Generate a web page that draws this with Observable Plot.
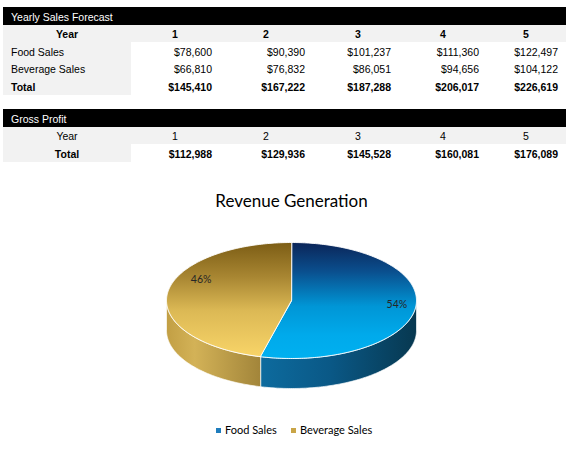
<!DOCTYPE html>
<html><head><meta charset="utf-8">
<script src="https://cdn.jsdelivr.net/npm/d3@7"></script>
<script src="https://cdn.jsdelivr.net/npm/@observablehq/plot@0.6"></script>
<style>
html,body{margin:0;padding:0;background:#fff;}
#root{position:relative;width:577px;height:458px;overflow:hidden;font-family:"Liberation Sans",Arial,sans-serif;font-size:10.5px;color:#000;}
.abs{position:absolute;white-space:nowrap;}
#chart{position:absolute;left:0;top:215px;}
</style></head><body><div id="root"><div id="chart"></div></div>
<script>
// ---------- data ----------
const tableTitle1 = "Yearly Sales Forecast";
const tableTitle2 = "Gross Profit";
const years = [1, 2, 3, 4, 5];
const rowLabels = ["Food Sales", "Beverage Sales"];
const foodSales = [78600, 90390, 101237, 111360, 122497];
const beverageSales = [66810, 76832, 86051, 94656, 104122];
const totalSales = [145410, 167222, 187288, 206017, 226619];
const grossProfit = [112988, 129936, 145528, 160081, 176089];
const pieTitle = "Revenue Generation";
const pieCategories = ["Food Sales", "Beverage Sales"];
const pieShares = [54, 46];

// ---------- layout / style ----------
const L = {
  left: 3, right: 566, labelRight: 131, labelPad: 8, rowH: 17.5, textOff: 1.5,
  valueRights: [212, 305, 391, 479, 558],
  headerLefts: [172, 263, 355, 440, 523],
  t1: 7, t2: 109, gray: "#f2f2f2"
};
const root = document.getElementById("root");
const fmt = d3.format("$,");
function box(left, top, width, height, bg) {
  const d = document.createElement("div");
  d.className = "abs";
  Object.assign(d.style, {left: left + "px", top: top + "px", width: width + "px", height: height + "px", background: bg});
  root.appendChild(d);
}
function txt(s, top, o) {
  const d = document.createElement("div");
  d.className = "abs";
  d.textContent = s;
  d.style.top = (top + L.textOff) + "px";
  d.style.height = L.rowH + "px";
  d.style.lineHeight = L.rowH + "px";
  if (o.bold) d.style.fontWeight = "bold";
  if (o.color) d.style.color = o.color;
  if (o.left != null) { d.style.left = o.left + "px"; }
  if (o.right != null) { d.style.right = (577 - o.right) + "px"; d.style.textAlign = "right"; }
  if (o.center != null) { d.style.left = (o.center - 100) + "px"; d.style.width = "200px"; d.style.textAlign = "center"; }
  root.appendChild(d);
}
const labelCenter = (L.left + L.labelRight) / 2;

// table 1
{
  const t = L.t1, h = L.rowH;
  box(L.left, t, L.right - L.left, h, "#000");
  txt(tableTitle1, t, {left: L.left + L.labelPad, color: "#fff"});
  box(L.left, t + h, L.right - L.left, h, L.gray);
  box(L.left, t + 2 * h, L.labelRight - L.left, 3 * h, L.gray);
  txt("Year", t + h, {center: labelCenter, bold: true});
  years.forEach((y, i) => txt(String(y), t + h, {left: L.headerLefts[i], bold: true}));
  const rows = [foodSales, beverageSales];
  rows.forEach((vals, r) => {
    txt(rowLabels[r], t + (2 + r) * h, {left: L.left + L.labelPad});
    vals.forEach((v, i) => txt(fmt(v), t + (2 + r) * h, {right: L.valueRights[i]}));
  });
  txt("Total", t + 4 * h, {left: L.left + L.labelPad, bold: true});
  totalSales.forEach((v, i) => txt(fmt(v), t + 4 * h, {right: L.valueRights[i], bold: true}));
}
// table 2
{
  const t = L.t2, h = L.rowH;
  box(L.left, t, L.right - L.left, h, "#000");
  txt(tableTitle2, t, {left: L.left + L.labelPad, color: "#fff"});
  box(L.left, t + h, L.right - L.left, h, L.gray);
  box(L.left, t + 2 * h, L.labelRight - L.left, h, L.gray);
  txt("Year", t + h, {center: labelCenter});
  years.forEach((y, i) => txt(String(y), t + h, {left: L.headerLefts[i]}));
  txt("Total", t + 2 * h, {center: labelCenter, bold: true});
  grossProfit.forEach((v, i) => txt(fmt(v), t + 2 * h, {right: L.valueRights[i], bold: true}));
}

// title
{
  const d = document.createElement("div");
  d.className = "abs";
  d.textContent = pieTitle;
  Object.assign(d.style, {left: "0px", width: "583px", textAlign: "center", top: "192px",
    fontFamily: "Lato, sans-serif", fontSize: "17px", lineHeight: "17px", color: "#000"});
  root.appendChild(d);
}

// ---------- 3D pie via Plot ----------
const depth = 30 / 58;
const total = d3.sum(pieShares);
let acc = 0;
const slices = pieCategories.map((name, i) => {
  const a0 = acc / total * 2 * Math.PI; acc += pieShares[i];
  const a1 = acc / total * 2 * Math.PI;
  return {name, share: pieShares[i], a0, a1, key: i === 0 ? "food" : "bev"};
});
const pt = (t, dz) => ({x: Math.sin(t), y: -Math.cos(t) + dz});
function arc(a0, a1, dz) {
  const n = Math.max(2, Math.ceil((a1 - a0) / (Math.PI / 180)));
  return d3.range(n + 1).map(k => pt(a0 + (a1 - a0) * k / n, dz));
}
const marks = [];
slices.forEach(s => {
  const s0 = Math.max(s.a0, Math.PI / 2), s1 = Math.min(s.a1, 3 * Math.PI / 2);
  if (s1 > s0) {
    const poly = [...arc(s0, s1, 0), ...arc(s0, s1, depth).reverse()];
    marks.push(Plot.line(poly, {x: "x", y: "y", fill: `url(#side-${s.key})`, stroke: "#fff", strokeWidth: 0.8, strokeOpacity: 0.85, curve: "linear-closed"}));
  }
});
slices.forEach(s => {
  const poly = [{x: 0, y: 0}, ...arc(s.a0, s.a1, 0)];
  marks.push(Plot.line(poly, {x: "x", y: "y", fill: `url(#top-${s.key})`, stroke: "#fff", strokeWidth: 1, strokeOpacity: 0.9, curve: "linear-closed"}));
});
const labelOffsets = [{dx: 0, dy: -2}, {dx: 15, dy: -15}];
slices.forEach((s, i) => {
  const m = (s.a0 + s.a1) / 2, r = 0.85;
  marks.push(Plot.text([{x: Math.sin(m) * r, y: -Math.cos(m) * r, t: d3.format(".0f")(s.share) + "%"}],
    {x: "x", y: "y", text: "t", fontSize: 10.5, fill: "#262626", dx: labelOffsets[i].dx, dy: labelOffsets[i].dy}));
});

const plot = Plot.plot({
  width: 577, height: 200,
  x: {domain: [-1, 1], range: [166, 416], axis: null},
  y: {domain: [-1, 1 + depth], range: [27, 27 + 58 * (2 + depth)], axis: null},
  style: {fontFamily: "Lato, sans-serif", background: "transparent", overflow: "visible"},
  marks
});
const svg = d3.select(plot);
const defs = svg.insert("defs", ":first-child");
function grad(id, vertical, stops) {
  const g = defs.append("linearGradient").attr("id", id)
    .attr("x1", 0).attr("y1", 0).attr("x2", vertical ? 0 : 1).attr("y2", vertical ? 1 : 0);
  stops.forEach(([o, c]) => g.append("stop").attr("offset", o).attr("stop-color", c));
}
grad("top-food", true, [[0, "#0b2558"], [0.25, "#0a4f8e"], [0.55, "#0096d6"], [0.8, "#00aaeb"], [1, "#00b0f0"]]);
grad("top-bev", true, [[0, "#7c5d15"], [0.3, "#a88632"], [0.6, "#dcb955"], [1, "#f8d468"]]);
grad("side-food", false, [[0, "#0d6b9e"], [0.45, "#0a5886"], [1, "#073850"]]);
grad("side-bev", false, [[0, "#c29f44"], [0.3, "#d3b257"], [1, "#a2853a"]]);
document.getElementById("chart").appendChild(plot);

// legend
{
  const colors = ["#1f7dbd", "#c9a547"];
  const xs = [216, 291];
  pieCategories.forEach((c, i) => {
    const sq = document.createElement("div");
    sq.className = "abs";
    Object.assign(sq.style, {left: xs[i] + "px", top: "428px", width: "5px", height: "5px", background: colors[i]});
    root.appendChild(sq);
    const t = document.createElement("div");
    t.className = "abs";
    t.textContent = c;
    Object.assign(t.style, {left: (xs[i] + 9) + "px", top: "423px", fontFamily: "Lato, sans-serif", fontSize: "11px", lineHeight: "14px", color: "#000"});
    root.appendChild(t);
  });
}
</script></body></html>
